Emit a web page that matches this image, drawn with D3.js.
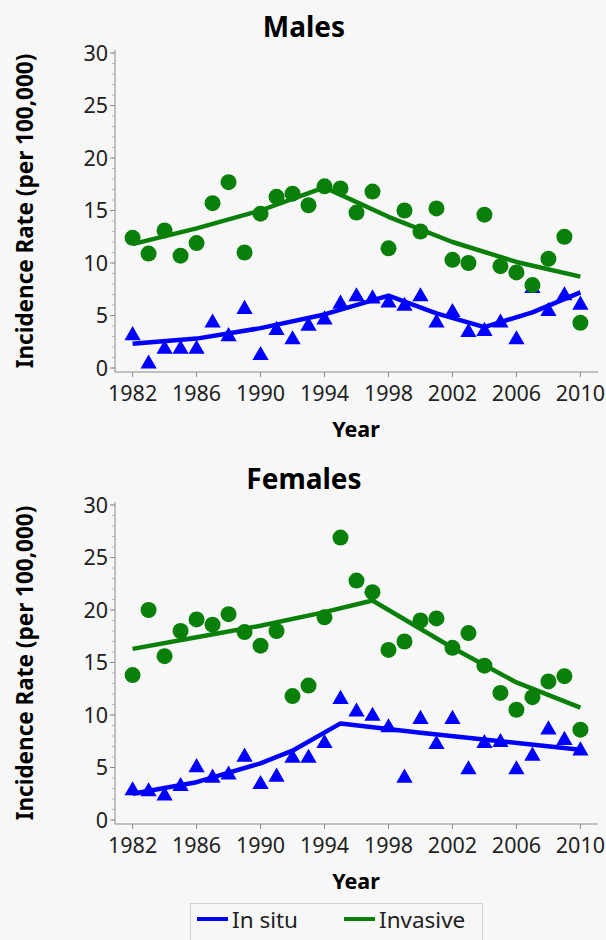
<!DOCTYPE html>
<html lang="en">
<head>
    <meta charset="UTF-8">
    <title>Incidence Rate by Year</title>
    <style>
        html, body { margin: 0; padding: 0; background: #f7f7f7; }
        svg { display: block; font-family: "Noto Sans", "Open Sans", sans-serif; }
    </style>
</head>
<body>
    <div id="chart"></div>

    <script src="https://cdn.jsdelivr.net/npm/d3@7"></script>
    <script>
        // years on the x axis
        var years = [1982, 1983, 1984, 1985, 1986, 1987, 1988, 1989, 1990, 1991, 1992, 1993, 1994, 1995,
                     1996, 1997, 1998, 1999, 2000, 2001, 2002, 2003, 2004, 2005, 2006, 2007, 2008, 2009, 2010];
        var xTickYears = [1982, 1986, 1990, 1994, 1998, 2002, 2006, 2010];
        var yTicks = [0, 5, 10, 15, 20, 25, 30];
        var yMinorTicks = [0, 1, 2, 3, 4, 5, 6, 7, 8, 9, 10, 11, 12, 13, 14, 15, 16, 17, 18, 19, 20,
                           21, 22, 23, 24, 25, 26, 27, 28, 29, 30];

        // observed rates
        var maleInvasive = [12.4, 10.9, 13.1, 10.7, 11.9, 15.7, 17.7, 11.0, 14.7, 16.3, 16.6, 15.5, 17.3, 17.1,
                            14.8, 16.8, 11.4, 15.0, 13.0, 15.2, 10.3, 10.0, 14.6, 9.7, 9.1, 7.9, 10.4, 12.5, 4.3];
        var maleInSitu = [3.1, 0.4, 1.8, 1.8, 1.8, 4.3, 3.0, 5.6, 1.2, 3.6, 2.7, 4.0, 4.6, 6.1,
                          6.8, 6.6, 6.2, 5.9, 6.8, 4.3, 5.3, 3.4, 3.5, 4.3, 2.7, 7.6, 5.4, 6.9, 6.0];
        var femaleInvasive = [13.8, 20.0, 15.6, 18.0, 19.1, 18.6, 19.6, 17.9, 16.6, 18.0, 11.8, 12.8, 19.3, 26.9,
                              22.8, 21.7, 16.2, 17.0, 19.0, 19.2, 16.4, 17.8, 14.7, 12.1, 10.5, 11.7, 13.2, 13.7, 8.6];
        var femaleInSitu = [2.8, 2.7, 2.3, 3.2, 5.0, 4.0, 4.3, 6.0, 3.4, 4.1, 5.9, 5.9, 7.3, 11.5,
                            10.3, 9.9, 8.8, 4.0, 9.6, 7.2, 9.6, 4.8, 7.3, 7.4, 4.8, 6.1, 8.6, 7.6, 6.6];

        // fitted joinpoint trends (read at a few years)
        var maleInvasiveTrendYears = [1982, 1986, 1990, 1994, 1998, 2002, 2006, 2010];
        var maleInvasiveTrend = [11.8, 13.3, 15.0, 17.2, 14.4, 12.0, 10.1, 8.7];
        var maleInSituTrendYears = [1982, 1986, 1990, 1994, 1998, 2001, 2004, 2007, 2010];
        var maleInSituTrend = [2.3, 2.8, 3.8, 5.1, 6.9, 5.2, 3.9, 5.3, 7.2];
        var femaleInvasiveTrendYears = [1982, 1986, 1990, 1994, 1997, 2002, 2006, 2010];
        var femaleInvasiveTrend = [16.3, 17.4, 18.5, 19.8, 20.9, 16.4, 13.1, 10.7];
        var femaleInSituTrendYears = [1982, 1986, 1990, 1992, 1995, 2000, 2005, 2010];
        var femaleInSituTrend = [2.5, 3.6, 5.4, 6.6, 9.2, 8.3, 7.5, 6.7];

        var seriesNames = ["In situ", "Invasive"];
        var blue = "#0000ff", green = "#0a800a";

        var width = 606, height = 940;
        var svg = d3.select("#chart").append("svg")
            .attr("width", width)
            .attr("height", height);

        var x = d3.scaleLinear().domain([1980.9, 2011.1]).range([115, 598]);

        function drawPanel(title, top, inSitu, invasive, sTrendYears, sTrend, iTrendYears, iTrend) {
            // value 0 sits at top + 315, 30 at top
            var y = d3.scaleLinear().domain([0, 30]).range([top + 315, top]);
            var axisY = top + 319;
            var g = svg.append("g");

            g.append("text")
                .attr("x", 304).attr("y", top - 16)
                .attr("text-anchor", "middle")
                .attr("font-size", 28).attr("font-weight", "bold")
                .text(title);

            // y axis
            g.append("line")
                .attr("x1", 115).attr("x2", 115)
                .attr("y1", top - 3).attr("y2", axisY)
                .attr("stroke", "#8a8a8a");
            g.selectAll(".minor").data(yMinorTicks).join("line")
                .attr("x1", 112).attr("x2", 115)
                .attr("y1", d => y(d)).attr("y2", d => y(d))
                .attr("stroke", "#b5b5b5");
            g.selectAll(".major").data(yTicks).join("line")
                .attr("x1", 110).attr("x2", 115)
                .attr("y1", d => y(d)).attr("y2", d => y(d))
                .attr("stroke", "#8a8a8a");
            g.selectAll(".ylab").data(yTicks).join("text")
                .attr("x", 108).attr("y", d => y(d) + 7.5)
                .attr("text-anchor", "end")
                .attr("font-size", 21.5).attr("fill", "#222")
                .text(d => d);

            // x axis
            g.append("line")
                .attr("x1", 115).attr("x2", 598)
                .attr("y1", axisY).attr("y2", axisY)
                .attr("stroke", "#8a8a8a");
            g.selectAll(".xtick").data(xTickYears).join("line")
                .attr("x1", d => x(d)).attr("x2", d => x(d))
                .attr("y1", axisY).attr("y2", axisY + 5)
                .attr("stroke", "#8a8a8a");
            g.selectAll(".xlab").data(xTickYears).join("text")
                .attr("x", d => x(d)).attr("y", axisY + 29)
                .attr("text-anchor", "middle")
                .attr("font-size", 21.5).attr("fill", "#222")
                .text(d => d);

            g.append("text")
                .attr("x", 356).attr("y", axisY + 65)
                .attr("text-anchor", "middle")
                .attr("font-size", 21.5).attr("font-weight", "bold")
                .text("Year");

            g.append("text")
                .attr("transform", `translate(33,${top + 158}) rotate(-90)`)
                .attr("text-anchor", "middle")
                .attr("font-size", 22.5).attr("font-weight", "bold")
                .text("Incidence Rate (per 100,000)");

            var line = d3.line()
                .x(d => x(d[0]))
                .y(d => y(d[1]));

            // in situ
            g.append("path")
                .attr("d", line(sTrendYears.map((yr, i) => [yr, sTrend[i]])))
                .attr("fill", "none").attr("stroke", blue)
                .attr("stroke-width", 4.5).attr("stroke-linejoin", "round");
            g.selectAll(".tri").data(inSitu).join("path")
                .attr("d", d3.symbol().type(d3.symbolTriangle).size(115))
                .attr("transform", (d, i) => `translate(${x(years[i])},${y(d)})`)
                .attr("fill", blue);

            // invasive
            g.append("path")
                .attr("d", line(iTrendYears.map((yr, i) => [yr, iTrend[i]])))
                .attr("fill", "none").attr("stroke", green)
                .attr("stroke-width", 4.5).attr("stroke-linejoin", "round");
            g.selectAll(".dot").data(invasive).join("circle")
                .attr("cx", (d, i) => x(years[i]))
                .attr("cy", d => y(d))
                .attr("r", 8)
                .attr("fill", green);
        }

        drawPanel("Males", 53, maleInSitu, maleInvasive,
            maleInSituTrendYears, maleInSituTrend, maleInvasiveTrendYears, maleInvasiveTrend);
        drawPanel("Females", 505, femaleInSitu, femaleInvasive,
            femaleInSituTrendYears, femaleInSituTrend, femaleInvasiveTrendYears, femaleInvasiveTrend);

        // legend
        var legend = svg.append("g");
        legend.append("rect")
            .attr("x", 190.5).attr("y", 903.5)
            .attr("width", 292).attr("height", 60)
            .attr("fill", "none").attr("stroke", "#cfcfcf");
        var legendX = [197, 344];
        var legendColors = [blue, green];
        seriesNames.forEach(function (name, i) {
            legend.append("line")
                .attr("x1", legendX[i]).attr("x2", legendX[i] + 31)
                .attr("y1", 919).attr("y2", 919)
                .attr("stroke", legendColors[i]).attr("stroke-width", 4);
            legend.append("text")
                .attr("x", legendX[i] + 35).attr("y", 927.5)
                .attr("font-size", 22.5).attr("fill", "#222")
                .text(name);
        });
    </script>
</body>
</html>
